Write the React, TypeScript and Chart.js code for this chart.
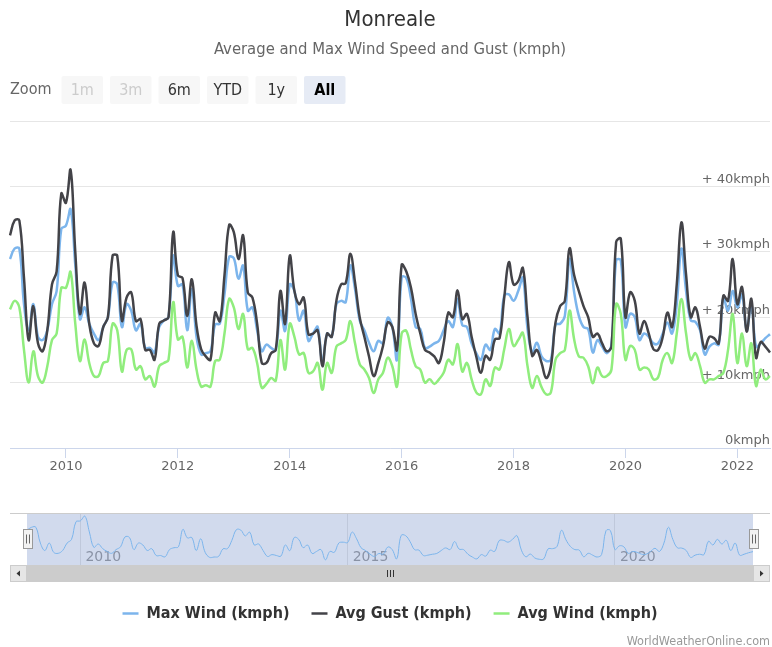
import React, { useEffect, useRef } from 'react';
import { Chart, registerables } from 'chart.js';

Chart.register(...registerables);

// ---- Data (monthly, Jan 2009 .. Aug 2022) ----
const FIRST_YEAR = 2009;

const MAX_WIND = [
  28.9, 30.5, 30.5, 22, 18, 22, 17, 16.5, 18, 22, 24, 33.5,
  34, 36.5, 28, 19.7, 21.5, 19, 17.5, 16.5, 18.5, 20, 25.3, 25,
  18.5, 22, 21, 18, 19, 15.3, 15.3, 14.6, 18.5, 19.5, 20, 29.4,
  24.8, 25, 18, 24.3, 17, 14.3, 14.5, 14.8, 18.9, 19, 23.5, 29.2,
  29, 25.9, 27.9, 21, 21.5, 18, 14.8, 15.8, 15.3, 15, 21, 17.9,
  25, 24, 19.5, 21, 16.4, 17.5, 18.5, 13, 17.5, 17, 22, 22.5,
  22.3, 27.9, 24.3, 19.5, 18, 16.1, 14.8, 16.4, 16, 19.9, 18.5, 13.5,
  26.1, 26, 22.8, 18.5, 18.2, 15.3, 15.5, 16, 16.4, 18, 19.4, 18.5,
  22.8, 18.8, 18.5, 16, 14.5, 13.5, 15.8, 15, 18.2, 17.5, 23.3, 23.5,
  22.5, 24, 26, 18.2, 14.6, 16.1, 14, 13.3, 13.5, 18.9, 19, 20.2,
  28.9, 23.8, 20.2, 18.5, 18.2, 14.6, 16.5, 15.5, 14.5, 15.8, 28.7, 28.7,
  18.5, 20.5, 20, 16.5, 17.5, 17, 16, 16, 17.5, 19.2, 17.5, 22,
  30.5, 24, 19.5, 19.3, 18, 14.3, 15.5, 16, 15.8, 23, 21, 24,
  21.5, 23.5, 18, 22, 15.5, 16, 16.8, 17.4,
];

const AVG_GUST = [
  32.5, 34.8, 34.8, 26, 16.5, 21.7, 16, 14.8, 18, 25, 27, 38.9,
  37.5, 42.5, 30, 20.5, 25.3, 19, 16, 15.6, 18.5, 20, 29.4, 29.4,
  19.5, 23, 23.8, 19.4, 19.7, 15, 15, 13.5, 19, 19.5, 20, 33,
  26.4, 26, 20.2, 25.8, 18.7, 15.1, 14, 13.5, 20.7, 19.4, 26.4, 34.1,
  33, 28.9, 32.5, 23.8, 23, 19, 13, 13, 14.5, 15, 24, 19,
  29.4, 24, 22, 23, 17.4, 17.5, 18, 12.5, 17.5, 17, 22.5, 25,
  25.2, 29.7, 25.3, 20, 17, 14, 11, 13, 15.6, 19.2, 18.5, 15,
  28, 27, 24.5, 20.5, 17.5, 15, 14.6, 14, 13, 16, 20.7, 20,
  24.1, 19.7, 20.5, 17, 14, 11.5, 14.1, 13.5, 16.6, 16.8, 23, 28.4,
  25, 25.5, 27.5, 20, 14.1, 15, 13, 10.7, 12.5, 19.2, 21.7, 22.5,
  30.5, 26.4, 24, 21.7, 20, 17, 17.5, 16, 14.8, 15.5, 31.5, 32,
  20, 23.8, 22.5, 17.5, 19.4, 17.5, 15.1, 15, 17, 20.7, 18.5, 25,
  34.5, 26.5, 20, 21.5, 18.5, 15.2, 17, 16.8, 16, 23.3, 22.5, 28.9,
  22, 24.6, 17.8, 22.8, 13.8, 16.2, 15.5, 14.6,
];

const AVG_WIND = [
  21.2, 22.5, 21.5, 15, 10, 14.8, 11, 10, 12.5, 16.5, 17.5, 24.5,
  24.5, 26.9, 19, 13.3, 16.6, 13, 11, 11, 13, 13.3, 19, 18,
  11.7, 15, 15.1, 12, 12.5, 10.5, 11, 9.4, 12.5, 13, 13.5, 22.3,
  16.6, 17, 12.3, 16.4, 12, 9.4, 9.6, 9.4, 13.3, 13.5, 17.5, 22.8,
  21.5, 18.2, 20.5, 15.1, 15.3, 13, 9.2, 9.8, 10.7, 10.3, 16.5, 12,
  19, 17, 14.3, 14.5, 11.5, 11.7, 13, 8.9, 13, 11.5, 15.5, 16,
  16.5, 19.4, 16, 12.8, 12, 10.7, 8.4, 10.5, 11.5, 13.8, 12.5, 9.4,
  17.5, 17.9, 15, 12.5, 12, 10, 10.5, 9.8, 10.5, 11.5, 13.5, 12.8,
  15.9, 11.7, 13, 10.5, 8.5, 8.2, 10.5, 9.5, 12.3, 12, 15.1, 18.2,
  15.6, 16.5, 17.6, 12.5, 9.2, 11, 9.3, 8.2, 8.5, 13.5, 14.5, 15,
  21, 16.6, 14, 13.8, 12.5, 9.9, 12.3, 11, 11, 12, 22, 20.5,
  13.5, 15.6, 15, 12, 12.3, 12, 10.5, 10.8, 13.5, 14.5, 13, 17.5,
  22.8, 17.5, 13.5, 14.5, 12.5, 10, 10.5, 10.5, 11, 11.5, 15, 20.5,
  13, 17.5, 12.5, 16, 9.5, 12, 10.5, 11,
];

const MONTHS: string[] = MAX_WIND.map(
  (_, i) => `${FIRST_YEAR + Math.floor(i / 12)}-${String((i % 12) + 1).padStart(2, '0')}`
);

const MAIN_TICK_YEARS = ['2010', '2012', '2014', '2016', '2018', '2020', '2022'];
const NAV_TICK_YEARS = ['2010', '2015', '2020'];
const Y_MIN = 0;
const Y_MAX = 50;
const Y_STEP = 10;
const NAV_Y_MIN = 10.2;
const NAV_Y_MAX = 38.2;

const SERIES_NAMES = ['Max Wind (kmph)', 'Avg Gust (kmph)', 'Avg Wind (kmph)'];
const SERIES_COLORS = ['#7cb5ec', '#434348', '#90ed7d'];

const TITLE = 'Monreale';
const SUBTITLE = 'Average and Max Wind Speed and Gust (kmph)';
const CREDITS = 'WorldWeatherOnline.com';
const ZOOM_LABEL = 'Zoom';
const ZOOM_BUTTONS = ['1m', '3m', '6m', 'YTD', '1y', 'All'];
const DISABLED_BUTTONS = ['1m', '3m'];
const SELECTED_BUTTON = 'All';

const FONT_COND = '"DejaVu Sans Condensed", "DejaVu Sans", sans-serif';
const FONT_AXIS = '"DejaVu Sans", sans-serif';

const W = 772;
const H = 647;
const NAV_TOP = 505;
const NAV_H = 85;

function yearTickFilter(years: string[]) {
  return (scale: any) => {
    scale.ticks = scale.ticks.filter((t: any) => {
      const lab = MONTHS[t.value];
      return lab && lab.endsWith('-01') && years.includes(lab.slice(0, 4));
    });
  };
}

const rangeSelectorPlugin = {
  id: 'rangeSelectorDeco',
  afterDraw(chart: any) {
    const ctx = chart.ctx as CanvasRenderingContext2D;
    ctx.save();
    ctx.textBaseline = 'middle';
    ctx.textAlign = 'left';
    ctx.font = `16px ${FONT_COND}`;
    ctx.fillStyle = '#666666';
    ctx.fillText(ZOOM_LABEL, 10, 90);
    ZOOM_BUTTONS.forEach((b, i) => {
      const x = 61.5 + i * 48.5;
      const y = 76;
      const w = 41.5;
      const h = 28;
      const selected = b === SELECTED_BUTTON;
      const disabled = DISABLED_BUTTONS.includes(b);
      ctx.fillStyle = selected ? '#e6ebf5' : '#f7f7f7';
      ctx.beginPath();
      if ((ctx as any).roundRect) (ctx as any).roundRect(x, y, w, h, 2);
      else ctx.rect(x, y, w, h);
      ctx.fill();
      ctx.fillStyle = disabled ? '#cccccc' : selected ? '#000000' : '#333333';
      ctx.font = `${selected ? 'bold ' : ''}16px ${FONT_COND}`;
      ctx.textAlign = 'center';
      ctx.fillText(b, x + w / 2, y + h / 2 + 1);
    });
    ctx.font = `12.5px ${FONT_COND}`;
    ctx.fillStyle = '#999999';
    ctx.textAlign = 'right';
    ctx.fillText(CREDITS, 770, 642);
    ctx.restore();
  },
};

const navigatorPlugin = {
  id: 'navigatorDeco',
  beforeDatasetsDraw(chart: any) {
    const { ctx, chartArea: ca } = chart;
    ctx.save();
    ctx.fillStyle = 'rgba(102,133,194,0.3)';
    ctx.fillRect(ca.left, ca.top, ca.right - ca.left, ca.bottom - ca.top);
    ctx.restore();
  },
  afterDraw(chart: any) {
    const { ctx, chartArea: ca } = chart;
    ctx.save();
    ctx.strokeStyle = '#cccccc';
    ctx.lineWidth = 1;
    ctx.beginPath();
    ctx.moveTo(10, ca.top + 0.5);
    ctx.lineTo(770, ca.top + 0.5);
    ctx.stroke();
    const sy = ca.bottom;
    const sh = 17;
    ctx.fillStyle = '#f2f2f2';
    ctx.fillRect(10, sy, 760, sh);
    ctx.fillStyle = '#cccccc';
    ctx.fillRect(ca.left, sy, ca.right - ca.left, sh);
    [[10, ca.left - 10], [ca.right, 770 - ca.right]].forEach(([bx, bw], idx) => {
      ctx.fillStyle = '#e6e6e6';
      ctx.fillRect(bx, sy, bw, sh);
      ctx.strokeStyle = '#cccccc';
      ctx.strokeRect(bx + 0.5, sy + 0.5, bw - 1, sh - 1);
      const cx = bx + bw / 2;
      const cy = sy + sh / 2;
      ctx.fillStyle = '#333333';
      ctx.beginPath();
      if (idx === 0) {
        ctx.moveTo(cx - 2, cy);
        ctx.lineTo(cx + 1.5, cy - 3);
        ctx.lineTo(cx + 1.5, cy + 3);
      } else {
        ctx.moveTo(cx + 2, cy);
        ctx.lineTo(cx - 1.5, cy - 3);
        ctx.lineTo(cx - 1.5, cy + 3);
      }
      ctx.closePath();
      ctx.fill();
    });
    const rx = (ca.left + ca.right) / 2;
    ctx.strokeStyle = '#333333';
    ctx.beginPath();
    [-3, 0, 3].forEach((d) => {
      ctx.moveTo(Math.round(rx + d) + 0.5, sy + 5);
      ctx.lineTo(Math.round(rx + d) + 0.5, sy + 12);
    });
    ctx.stroke();
    const hy = (ca.top + ca.bottom) / 2;
    [ca.left, ca.right].forEach((hx) => {
      const x0 = Math.round(hx - 4.5) + 0.5;
      const y0 = Math.round(hy - 10) + 0.5;
      ctx.fillStyle = '#f2f2f2';
      ctx.fillRect(x0, y0, 9, 19);
      ctx.strokeStyle = '#999999';
      ctx.strokeRect(x0, y0, 9, 19);
      ctx.strokeStyle = '#666666';
      ctx.beginPath();
      ctx.moveTo(x0 + 3, y0 + 5);
      ctx.lineTo(x0 + 3, y0 + 14);
      ctx.moveTo(x0 + 6, y0 + 5);
      ctx.lineTo(x0 + 6, y0 + 14);
      ctx.stroke();
    });
    ctx.restore();
  },
};

export default function App() {
  const mainRef = useRef<HTMLCanvasElement | null>(null);
  const navRef = useRef<HTMLCanvasElement | null>(null);

  useEffect(() => {
    if (!mainRef.current || !navRef.current) return;

    const seriesData = [MAX_WIND, AVG_GUST, AVG_WIND];
    // reversed so that later series are painted on top; legend reversed back
    const datasets = [2, 1, 0].map((i) => ({
      label: SERIES_NAMES[i],
      data: seriesData[i],
      borderColor: SERIES_COLORS[i],
      backgroundColor: SERIES_COLORS[i],
      borderWidth: 2.5,
      pointRadius: 0,
      pointHoverRadius: 0,
      tension: 0.4,
      fill: false,
    }));

    const main = new Chart(mainRef.current, {
      type: 'line',
      data: { labels: MONTHS, datasets },
      options: {
        animation: false,
        responsive: false,
        events: [],
        layout: { padding: { left: 10, right: 2, top: 0, bottom: 15.5 } },
        plugins: {
          tooltip: { enabled: false },
          title: {
            display: true,
            text: TITLE,
            color: '#333333',
            font: { family: FONT_COND, size: 22, weight: 'normal' },
            padding: { top: 7, bottom: 0 },
          },
          subtitle: {
            display: true,
            text: SUBTITLE,
            color: '#666666',
            font: { family: FONT_COND, size: 16.5, weight: 'normal' },
            padding: { top: 6.7, bottom: 61.1 },
          },
          legend: {
            display: true,
            position: 'bottom',
            reverse: true,
            title: { display: true, text: ' ', font: { size: 10 }, padding: { top: 0, bottom: 95.9 } },
            labels: {
              usePointStyle: true,
              pointStyle: 'line',
              pointStyleWidth: 16,
              color: '#333333',
              padding: 22,
              font: { family: FONT_COND, size: 16, weight: 'bold' },
            },
          },
        },
        scales: {
          x: {
            type: 'category',
            afterBuildTicks: yearTickFilter(MAIN_TICK_YEARS),
            grid: { drawOnChartArea: false, drawTicks: true, tickLength: 10, color: '#ccd6eb' },
            border: { display: true, color: '#ccd6eb', width: 1 },
            ticks: {
              autoSkip: false,
              maxRotation: 0,
              minRotation: 0,
              padding: 1,
              color: '#666666',
              font: { family: FONT_AXIS, size: 13 },
              callback: (v: any) => MONTHS[v as number].slice(0, 4),
            },
          },
          y: {
            type: 'linear',
            position: 'right',
            min: Y_MIN,
            max: Y_MAX,
            grid: { color: '#e6e6e6', drawTicks: false },
            border: { display: false },
            ticks: {
              stepSize: Y_STEP,
              mirror: true,
              padding: 0,
              labelOffset: -7,
              color: '#666666',
              font: { family: FONT_AXIS, size: 13 },
              callback: (v: any) => (v === Y_MAX ? '' : `${v > 0 ? '+ ' : ''}${v}kmph`),
            },
          },
        },
      },
      plugins: [rangeSelectorPlugin],
    } as any);

    const nav = new Chart(navRef.current, {
      type: 'line',
      data: {
        labels: MONTHS,
        datasets: [
          {
            label: SERIES_NAMES[0],
            data: MAX_WIND,
            borderColor: SERIES_COLORS[0],
            borderWidth: 1,
            pointRadius: 0,
            tension: 0.4,
            fill: false,
          },
        ],
      },
      options: {
        animation: false,
        responsive: false,
        events: [],
        layout: { padding: { left: 27, right: 19, top: 8, bottom: 25 } },
        plugins: { legend: { display: false }, tooltip: { enabled: false } },
        scales: {
          x: {
            type: 'category',
            afterBuildTicks: yearTickFilter(NAV_TICK_YEARS),
            grid: { color: '#e6e6e6', drawTicks: false },
            border: { display: false },
            ticks: {
              autoSkip: false,
              maxRotation: 0,
              minRotation: 0,
              mirror: true,
              padding: -1,
              align: 'start',
              labelOffset: 5,
              color: '#999999',
              font: { family: FONT_AXIS, size: 14 },
              callback: (v: any) => MONTHS[v as number].slice(0, 4),
            },
          },
          y: { display: false, min: NAV_Y_MIN, max: NAV_Y_MAX },
        },
      },
      plugins: [navigatorPlugin],
    } as any);

    return () => {
      main.destroy();
      nav.destroy();
    };
  }, []);

  return (
    <div style={{ position: 'absolute', left: 0, top: 0, width: W, height: H, background: '#ffffff' }}>
      <canvas ref={mainRef} width={W} height={H} style={{ position: 'absolute', left: 0, top: 0, width: W, height: H }} />
      <canvas
        ref={navRef}
        width={W}
        height={NAV_H}
        style={{ position: 'absolute', left: 0, top: NAV_TOP, width: W, height: NAV_H }}
      />
    </div>
  );
}
